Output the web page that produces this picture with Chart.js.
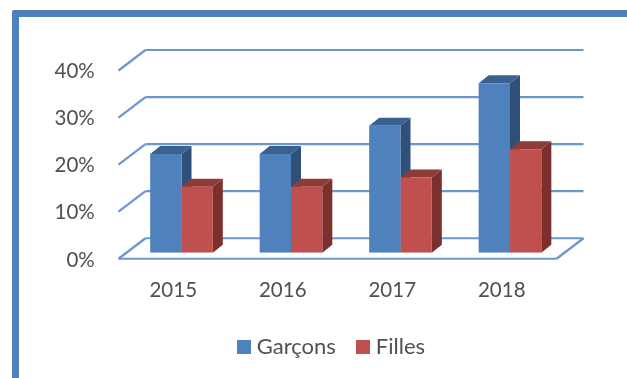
<!DOCTYPE html>
<html>
<head>
<meta charset="utf-8">
<style>
html,body{margin:0;padding:0;background:#fff;width:627px;height:378px;overflow:hidden}
#frame{position:absolute;left:12px;top:10px;width:640px;height:400px;box-sizing:border-box;border:7px solid #4f81bd;border-top-left-radius:2px}
#c{position:absolute;left:0;top:0;filter:blur(0.55px)}
</style>
<script src="https://cdn.jsdelivr.net/npm/chart.js@4/dist/chart.umd.min.js"></script>
</head>
<body>
<div id="frame"></div>
<canvas id="c" width="627" height="378"></canvas>
<script>
const categories = ['2015', '2016', '2017', '2018'];
const garcons = [21, 21, 27, 36];
const filles = [14, 14, 16, 22];
const seriesNames = ['Garçons', 'Filles'];
const FONT = 'Lato, Carlito, Calibri, sans-serif';
const TEXT = '#505050';
const faces = [
  {front:'#4f81bd', top:'#3a6190', side:'#2f5079'},
  {front:'#c0504d', top:'#8f3b39', side:'#7c2f2d'}
];
const FRONT = {dx:-8.25, dy:6};
const BACK = {dx:18.75, dy:-14.5};
const BAR_DEPTH = {dx:10, dy:-8};
const LEGEND_SHIFT = {x:35, y:0.5};

function swatch(color){
  const cv = document.createElement('canvas');
  cv.width = 14; cv.height = 14;
  const g = cv.getContext('2d');
  g.fillStyle = color; g.fillRect(0,0,14,14);
  return cv;
}

const walls = {
  id:'walls',
  afterLayout(chart){
    const l = chart.legend;
    l.left += LEGEND_SHIFT.x; l.right += LEGEND_SHIFT.x;
    l.top += LEGEND_SHIFT.y; l.bottom += LEGEND_SHIFT.y;
  },
  beforeDatasetsDraw(chart){
    const {ctx, chartArea:a, scales:{y}} = chart;
    const line = (x1,y1,x2,y2)=>{
      ctx.beginPath();ctx.moveTo(x1,y1);ctx.lineTo(x2,y2);ctx.stroke();
    };
    ctx.save();
    ctx.lineWidth = 2.2;
    ctx.strokeStyle = '#6c97cc';
    y.ticks.forEach(t=>{
      const p = y.getPixelForValue(t.value);
      line(a.left+FRONT.dx, p+FRONT.dy, a.left+BACK.dx, p+BACK.dy);
      line(a.left+BACK.dx, p+BACK.dy, a.right+BACK.dx, p+BACK.dy);
    });
    const p0 = y.getPixelForValue(0);
    line(a.left+FRONT.dx, p0+FRONT.dy, a.right+FRONT.dx, p0+FRONT.dy);
    line(a.right+FRONT.dx, p0+FRONT.dy, a.right+BACK.dx, p0+BACK.dy);
    chart.data.datasets.forEach((ds,i)=>{
      chart.getDatasetMeta(i).data.forEach(b=>{
        const l=b.x-b.width/2, r=b.x+b.width/2, t=b.y, bt=b.base;
        ctx.fillStyle = faces[i].side;
        ctx.beginPath();
        ctx.moveTo(r,t);ctx.lineTo(r+BAR_DEPTH.dx,t+BAR_DEPTH.dy);
        ctx.lineTo(r+BAR_DEPTH.dx,bt+BAR_DEPTH.dy);ctx.lineTo(r,bt);
        ctx.closePath();ctx.fill();
        ctx.fillStyle = faces[i].top;
        ctx.beginPath();
        ctx.moveTo(l,t);ctx.lineTo(l+BAR_DEPTH.dx,t+BAR_DEPTH.dy);
        ctx.lineTo(r+BAR_DEPTH.dx,t+BAR_DEPTH.dy);ctx.lineTo(r,t);
        ctx.closePath();ctx.fill();
      });
    });
    ctx.restore();
  }
};

new Chart(document.getElementById('c'), {
  type:'bar',
  data:{
    labels:categories,
    datasets:[
      {label:seriesNames[0], data:garcons, backgroundColor:faces[0].front, borderWidth:0},
      {label:seriesNames[1], data:filles, backgroundColor:faces[1].front, borderWidth:0}
    ]
  },
  options:{
    responsive:false,
    animation:false,
    layout:{padding:{left:33, right:62.25, top:64.5, bottom:10.25}},
    datasets:{bar:{categoryPercentage:0.572, barPercentage:1}},
    plugins:{
      tooltip:{enabled:false},
      title:{display:false},
      legend:{
        position:'bottom',
        labels:{
          usePointStyle:true, pointStyleWidth:3, boxHeight:14, padding:26,
          color:TEXT, font:{family:FONT, size:22},
          generateLabels(chart){
            return chart.data.datasets.map((ds,i)=>({
              text:ds.label, fontColor:TEXT, datasetIndex:i,
              pointStyle:swatch(faces[i].front), lineWidth:0
            }));
          }
        }
      }
    },
    scales:{
      x:{
        grid:{display:false, drawTicks:false},
        border:{display:false},
        ticks:{color:TEXT, font:{family:FONT, size:20.5}, padding:25, labelOffset:FRONT.dx, maxRotation:0},
        afterFit(s){s.height=57;}
      },
      y:{
        min:0, max:40,
        grid:{display:false, drawTicks:false},
        border:{display:false},
        ticks:{stepSize:10, color:TEXT, font:{family:FONT, size:20.5}, padding:32, labelOffset:7.2,
               callback:v=>v+'%'},
        afterFit(s){s.width=93.75;}
      }
    }
  },
  plugins:[walls]
});
</script>
</body>
</html>
